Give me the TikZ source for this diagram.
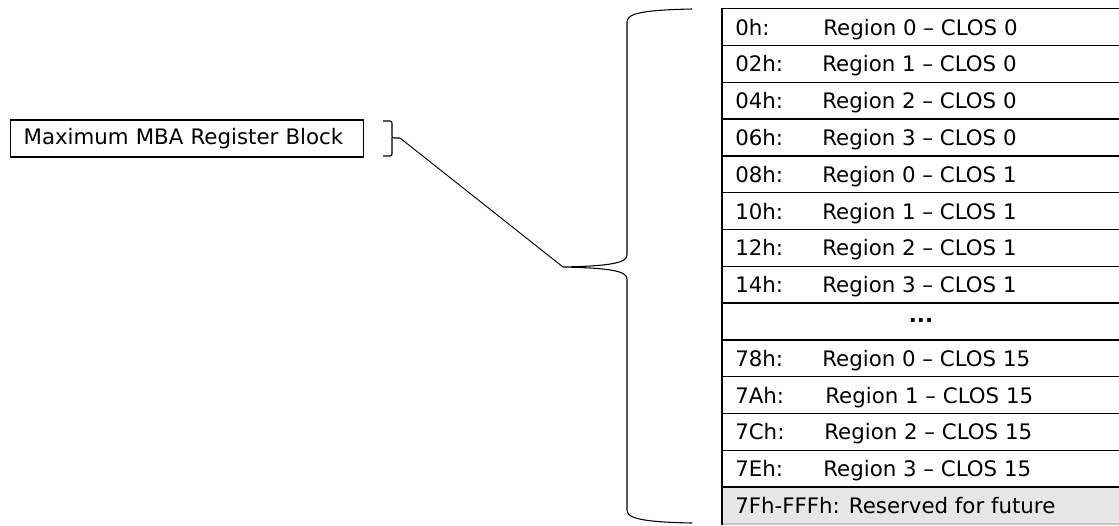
\documentclass[tikz,border=0pt]{standalone}
\usepackage{fontspec}
\setmainfont{DejaVu Sans}
\definecolor{resgray}{RGB}{230,230,230}
\definecolor{resline}{RGB}{196,196,196}
\begin{document}
\begin{tikzpicture}
  [x=0.75pt,y=-0.75pt,
   every node/.style={font=\fontsize{16}{19}\selectfont, inner sep=0pt},
   regrow/.style={draw, line width=1.1pt, anchor=north west, minimum width=310pt, minimum height=27.6pt},
   resrow/.style={regrow, fill=resgray, draw=resline},
   celltext/.style={anchor=base west},
   blockbox/.style={draw, line width=0.9pt, anchor=west, text width=245.25pt, align=left,
                    inner xsep=9.75pt, minimum height=27.75pt},
   brace/.style={line width=0.8pt}]
  \useasboundingbox (0,0) rectangle (1119,525);
  \clip (0,0) rectangle (1119,525);
  % register table
  \node[resrow] (row13) at (722,{8+36.8*13}) {};
  \foreach \i in {0,...,12}
    \node[regrow] (row\i) at (722,{8+36.8*\i}) {};
  \draw[line width=1.1pt] (row0.north west) -- (row13.south west);
  \foreach \i/\a/\r/\px in {0/0h:/Region 0 – CLOS 0/101, 1/02h:/Region 1 – CLOS 0/100,
      2/04h:/Region 2 – CLOS 0/100, 3/06h:/Region 3 – CLOS 0/100,
      4/08h:/Region 0 – CLOS 1/100, 5/10h:/Region 1 – CLOS 1/100,
      6/12h:/Region 2 – CLOS 1/100, 7/14h:/Region 3 – CLOS 1/100,
      9/78h:/Region 0 – CLOS 15/100, 10/7Ah:/Region 1 – CLOS 15/103,
      11/7Ch:/Region 2 – CLOS 15/102, 12/7Eh:/Region 3 – CLOS 15/101}
  {
    \node[celltext] (addr\i) at ([xshift=9.75pt,yshift=-6pt]row\i.west) {\a};
    \node[celltext] (reg\i) at ([xshift=0.75pt*\px,yshift=-6pt]row\i.west) {\r};
  }
  \node (dots) at (921,{8+36.8*8.5}) {\bfseries ...};
  \node[celltext] (addr13) at ([xshift=9.75pt,yshift=-6pt]row13.west) {7Fh-FFFh: Reserved for future};
  % block label and braces
  \node[blockbox] (mba) at (10,138.5) {Maximum MBA Register Block};
  \coordinate (smalltip) at (400,138);
  \coordinate (bigtip) at (563,267);
  \draw[brace, rounded corners=1.5pt] (383,121) -- (392,121) -- (392,138) -- (smalltip);
  \draw[brace, rounded corners=1.5pt] (392,137) -- (392,156) -- (383,156);
  \draw[brace] (692,9) .. controls (640,10) and (627,14) .. (627,22) -- (627,255)
     .. controls (627,263) and (610,266) .. (bigtip)
     .. controls (610,268) and (627,271) .. (627,279) -- (627,510)
     .. controls (627,518) and (640,522) .. (692,523);
  \draw[line width=0.7pt] (smalltip) -- (bigtip);
\end{tikzpicture}
\end{document}
